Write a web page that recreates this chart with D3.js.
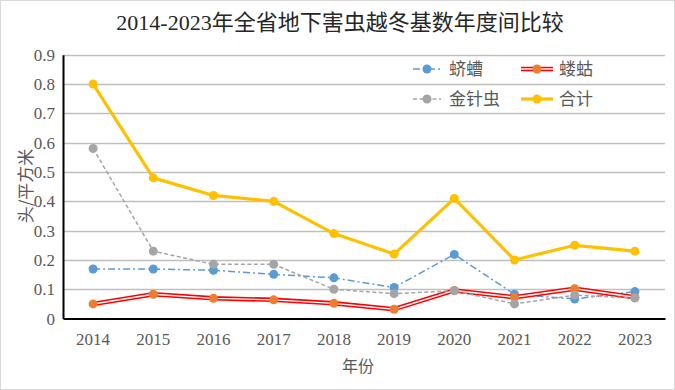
<!DOCTYPE html>
<html><head><meta charset="utf-8">
<script src="https://cdn.jsdelivr.net/npm/d3@7/dist/d3.min.js"></script>
<style>html,body{margin:0;padding:0;background:#fff;}svg{display:block;}</style>
</head><body>
<svg id="chart" width="675" height="390"></svg>
<script>
const years = ["2014","2015","2016","2017","2018","2019","2020","2021","2022","2023"];
const qicao = [0.169,0.169,0.165,0.151,0.139,0.106,0.219,0.083,0.067,0.092];
const lougu = [0.050,0.083,0.069,0.064,0.052,0.032,0.096,0.073,0.102,0.073];
const jinzhenchong = [0.58,0.23,0.185,0.185,0.10,0.085,0.095,0.05,0.08,0.07];
const heji = [0.80,0.48,0.42,0.40,0.29,0.22,0.41,0.20,0.25,0.23];
const yTicks = [0,0.1,0.2,0.3,0.4,0.5,0.6,0.7,0.8,0.9];
const seriesNames = ["蛴螬","蝼蛄","金针虫","合计"];

const svg = d3.select("#chart");
const W = 675, H = 390;
const m = {left:63, right:665, top:54.7, bottom:318.6};
const serif = "'Liberation Serif','Noto Sans CJK SC',serif";
const cjk = "'Noto Sans CJK SC','Liberation Serif',sans-serif";

svg.append("rect").attr("x",0.5).attr("y",0.5).attr("width",W-1).attr("height",H-1)
  .attr("fill","#fff").attr("stroke","#d9d9d9");

const x = d3.scaleBand().domain(years).range([m.left, m.right]);
const y = d3.scaleLinear().domain([0,0.9]).range([m.bottom, m.top]);
const xc = d => x(d) + x.bandwidth()/2;

// gridlines
svg.append("g").selectAll("line").data(yTicks.filter(t=>t>0)).join("line")
  .attr("x1",m.left).attr("x2",m.right)
  .attr("y1",d=>Math.round(y(d))+0.5).attr("y2",d=>Math.round(y(d))+0.5)
  .attr("stroke","#bfbfbf").attr("stroke-width",1.3);

// axes
const yAxis = d3.axisLeft(y).tickValues(yTicks).tickSize(0).tickPadding(8)
  .tickFormat(d => d===0 ? "0" : d3.format(".1f")(d));
const gy = svg.append("g").attr("transform",`translate(${m.left},0)`).call(yAxis);
gy.select(".domain").attr("stroke","#000").attr("stroke-width",2);
gy.selectAll("text").attr("font-family",serif).attr("font-size",17).attr("fill","#595959");

const xAxis = d3.axisBottom(x).tickSize(0).tickPadding(14);
const gx = svg.append("g").attr("transform",`translate(0,${m.bottom})`).call(xAxis);
gx.select(".domain").attr("stroke","#000").attr("stroke-width",2);
gx.selectAll("text").attr("font-family",serif).attr("font-size",17).attr("fill","#595959");

// title
svg.append("text").attr("x",340).attr("y",30).attr("text-anchor","middle")
  .attr("font-family",serif).attr("font-size",22).attr("fill","#262626")
  .text("2014-2023年全省地下害虫越冬基数年度间比较");
// axis titles
svg.append("text").attr("transform","translate(32,186) rotate(-90)").attr("text-anchor","middle")
  .attr("font-family",cjk).attr("font-size",17).attr("fill","#595959").text("头/平方米");
svg.append("text").attr("x",358).attr("y",372).attr("text-anchor","middle")
  .attr("font-family",cjk).attr("font-size",16).attr("fill","#595959").text("年份");

const line = d3.line().x((d,i)=>xc(years[i])).y(d=>y(d));

const styles = [
  {data:qicao, color:"#5b9bd5", width:1.5, dash:"7,3,2,3", marker:"#5b9bd5"},
  {data:lougu, color:"#ff0000", width:4.5, dash:null, marker:"#ed7d31", dbl:true},
  {data:jinzhenchong, color:"#a5a5a5", width:1.5, dash:"4,2.5", marker:"#a5a5a5"},
  {data:heji, color:"#ffc000", width:3.2, dash:null, marker:"#ffc000"}
];

styles.forEach(s => {
  const g = svg.append("g");
  g.append("path").attr("d",line(s.data)).attr("fill","none")
    .attr("stroke",s.color).attr("stroke-width",s.width)
    .attr("stroke-dasharray",s.dash).attr("stroke-linejoin","round");
  if (s.dbl) {
    g.append("path").attr("d",line(s.data)).attr("fill","none")
      .attr("stroke","#fff").attr("stroke-width",1.4).attr("stroke-linejoin","round");
  }
  g.selectAll("circle").data(s.data).join("circle")
    .attr("cx",(d,i)=>xc(years[i])).attr("cy",d=>y(d)).attr("r",4.5).attr("fill",s.marker);
});

// legend
const legPos = [[413,69],[521,69],[413,99],[521,99]];
styles.forEach((s,i) => {
  const [lx,ly] = legPos[i];
  const len = i%2===0 ? 28 : 32;
  const g = svg.append("g");
  g.append("line").attr("x1",lx).attr("x2",lx+len).attr("y1",ly).attr("y2",ly)
    .attr("stroke",s.color).attr("stroke-width",s.width).attr("stroke-dasharray",s.dash);
  if (s.dbl) g.append("line").attr("x1",lx).attr("x2",lx+len).attr("y1",ly).attr("y2",ly)
    .attr("stroke","#fff").attr("stroke-width",1.4);
  g.append("circle").attr("cx",lx+len/2).attr("cy",ly).attr("r",4.5).attr("fill",s.marker);
  g.append("text").attr("x",lx+len+(i%2===0?8:6)).attr("y",ly).attr("dy","0.36em")
    .attr("font-family",cjk).attr("font-size",17).attr("fill","#595959").text(seriesNames[i]);
});
</script>
</body></html>
